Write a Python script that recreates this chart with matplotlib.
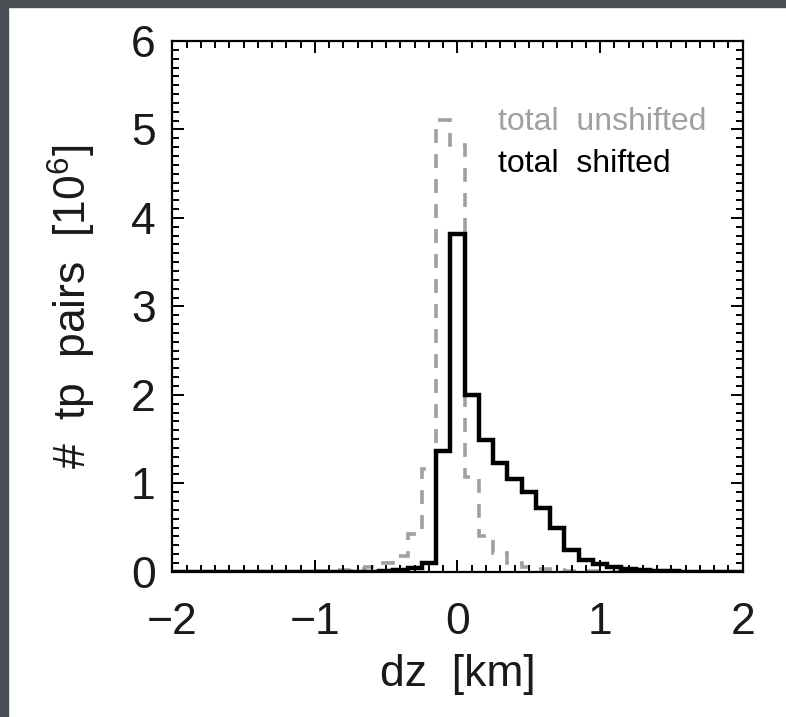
import numpy as np
import matplotlib
matplotlib.use("Agg")
import matplotlib.pyplot as plt
from matplotlib.patches import Rectangle
from matplotlib.ticker import MultipleLocator

plt.rcParams['font.family'] = ['Liberation Sans', 'DejaVu Sans']
plt.rcParams['mathtext.fontset'] = 'custom'
plt.rcParams['mathtext.rm'] = 'Liberation Sans'
plt.rcParams['mathtext.it'] = 'Liberation Sans'
plt.rcParams['lines.scale_dashes'] = False

# bin centres in km, 0.1 km bins
dz = np.round(np.arange(-20, 21) * 0.1, 1)

# counts in units of 10^6, centres -2.0 ... 2.0
unshifted = [0, 0, 0, 0, 0, 0, 0, 0, 0, 0,
             0.003, 0.008, 0.015, 0.03, 0.057, 0.095, 0.18, 0.43, 1.16, 5.11,
             4.83, 1.07, 0.40, 0.21, 0.10, 0.05, 0.03, 0.02, 0.012, 0.007,
             0.004, 0, 0, 0, 0, 0, 0, 0, 0, 0, 0]
shifted = [0, 0, 0, 0, 0, 0, 0, 0, 0, 0,
           0, 0, 0, 0, 0, 0.005, 0.015, 0.04, 0.10, 1.36,
           3.82, 2.00, 1.49, 1.23, 1.045, 0.905, 0.725, 0.50, 0.25, 0.13,
           0.087, 0.057, 0.03, 0.015, 0.007, 0.003, 0, 0, 0, 0, 0]

labels = ['total  unshifted', 'total  shifted']
colors = ['#a0a0a0', 'black']
textcol = '#1a1a1a'

fig = plt.figure(figsize=(7.86, 7.17), dpi=100, facecolor='white')
# dark frame on the left and top
fig.patches.append(Rectangle((0, 0), 8 / 786, 1, transform=fig.transFigure,
                             color='#4b4f56', zorder=0))
fig.patches.append(Rectangle((0, 1 - 7 / 717), 1, 7 / 717, transform=fig.transFigure,
                             color='#4b4f56', zorder=0))

ax = fig.add_axes([0.2192, 0.2026, 0.7257, 0.7402])

edges = np.append(dz - 0.05, dz[-1] + 0.05)
ax.stairs(unshifted, edges, color=colors[0], lw=2.6, linestyle=(0, (10, 8)))
ax.stairs(shifted, edges, color=colors[1], lw=3.2)

ax.set_xlim(-2, 2)
ax.set_ylim(0, 6)
ax.xaxis.set_major_locator(MultipleLocator(1))
ax.xaxis.set_minor_locator(MultipleLocator(0.1))
ax.yaxis.set_major_locator(MultipleLocator(1))
ax.yaxis.set_minor_locator(MultipleLocator(0.1))
ax.tick_params(which='both', direction='in', top=True, right=True, width=1.4)
ax.tick_params(which='major', length=8.5)
ax.tick_params(which='minor', length=5)
ax.tick_params(axis='x', which='major', pad=22, labelsize=32, labelcolor=textcol)
ax.tick_params(axis='y', which='major', pad=12, labelsize=32, labelcolor=textcol)
for s in ax.spines.values():
    s.set_linewidth(1.6)

ax.set_xlabel('dz  [km]', fontsize=32, labelpad=8, color=textcol)
ax.set_ylabel('#  tp  pairs  [10$^6$]', fontsize=32, labelpad=24, color=textcol)

ax.text(0.571, 0.847, labels[0], color=colors[0], fontsize=23,
        transform=ax.transAxes, va='center', ha='left')
ax.text(0.571, 0.768, labels[1], color=colors[1], fontsize=23,
        transform=ax.transAxes, va='center', ha='left')

fig.savefig('out.png', dpi=100, facecolor=fig.get_facecolor())
